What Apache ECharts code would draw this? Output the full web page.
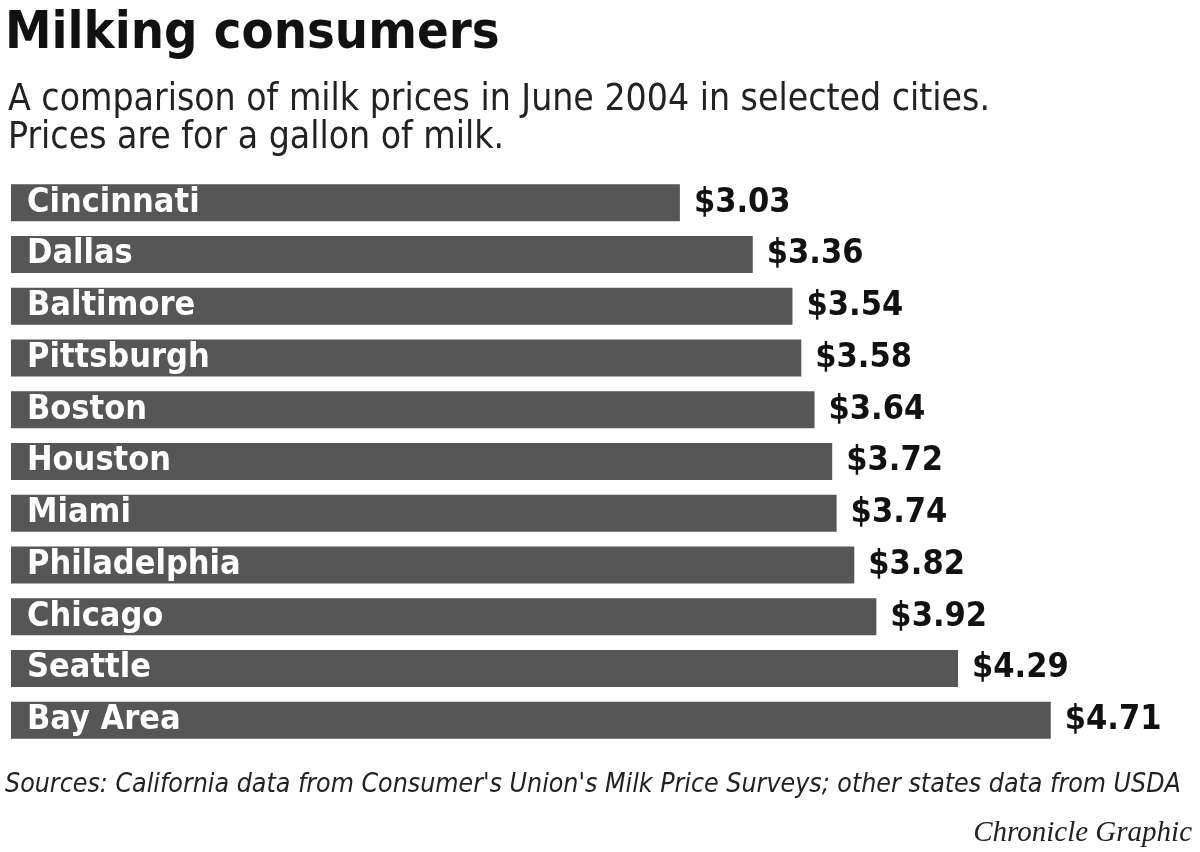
<!DOCTYPE html>
<html>
<head>
<meta charset="utf-8">
<script src="https://cdn.jsdelivr.net/npm/echarts@6/dist/echarts.min.js"></script>
<style>
html,body{margin:0;padding:0;background:#fff;}
#chart{width:1200px;height:852px;}
</style>
</head>
<body>
<div id="chart"></div>
<script>
var cities = ['Cincinnati','Dallas','Baltimore','Pittsburgh','Boston','Houston','Miami','Philadelphia','Chicago','Seattle','Bay Area'];
var prices = [3.03,3.36,3.54,3.58,3.64,3.72,3.74,3.82,3.92,4.29,4.71];

var NARROW = "'DejaVu Sans Condensed', 'Liberation Sans', sans-serif";
var chart = echarts.init(document.getElementById('chart'));
chart.setOption({
  backgroundColor: '#ffffff',
  animation: false,
  title: [
    {text: 'Milking consumers', left: 0, top: 3,
     textStyle: {fontFamily: NARROW, fontWeight: 'bold', fontSize: 52, color: '#111'}},
    {text: 'A comparison of milk prices in June 2004 in selected cities.\nPrices are for a gallon of milk.', left: 3, top: 76,
     textStyle: {fontFamily: NARROW, fontWeight: 'normal', fontSize: 37, lineHeight: 38, color: '#222'}},
    {text: "Sources: California data from Consumer's Union's Milk Price Surveys; other states data from USDA", left: 0, top: 767,
     textStyle: {fontFamily: NARROW, fontStyle: 'italic', fontWeight: 'normal', fontSize: 26.5, color: '#222'}},
    {text: 'Chronicle Graphic', right: 3, top: 814,
     textStyle: {fontFamily: "'Liberation Serif', serif", fontStyle: 'italic', fontWeight: 'normal', fontSize: 29, color: '#222'}}
  ],
  grid: {left: 11, right: 19, top: 177, bottom: 106, containLabel: false},
  xAxis: {type: 'value', min: 0, max: 5.3, show: false},
  yAxis: {type: 'category', data: cities, inverse: true, show: false},
  series: [
    {type: 'bar', data: prices, barWidth: 37, itemStyle: {color: '#565656'},
     label: {show: true, position: 'insideLeft', distance: 16, formatter: '{b}',
       fontFamily: NARROW, fontWeight: 'bold', fontSize: 34, color: '#ffffff'}},
    {type: 'bar', data: prices, barWidth: 37, barGap: '-100%', itemStyle: {color: 'rgba(0,0,0,0)'},
     label: {show: true, position: 'right', distance: 14,
       formatter: function(p){ return '$' + p.value.toFixed(2); },
       fontFamily: NARROW, fontWeight: 'bold', fontSize: 34, color: '#111'}}
  ]
});
</script>
</body>
</html>
